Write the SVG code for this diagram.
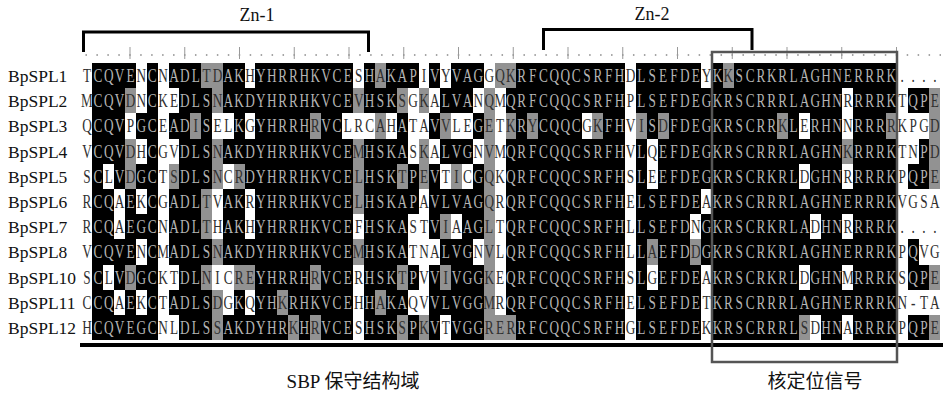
<svg xmlns="http://www.w3.org/2000/svg" width="943" height="393" viewBox="0 0 943 393">
<style>
.lbl{font-family:"Liberation Serif",serif;font-size:17.5px;fill:#111}
.seq{font-family:"Liberation Serif",serif;font-size:19px;fill:#303030;text-anchor:middle}
.seq .k{fill:#b4b4b4}
.ttl{font-family:"Liberation Serif",serif;font-size:18px;fill:#111;text-anchor:middle}
.cap{font-family:"Liberation Serif","Noto Sans CJK SC",serif;font-size:19px;fill:#111;text-anchor:middle}
.brk{fill:none;stroke:#000;stroke-width:3}
</style>
<rect width="943" height="393" fill="#fff"/>
<g id="ruler">
<line x1="85.45" y1="55" x2="941" y2="55" stroke="#888" stroke-width="1.6" stroke-dasharray="1.5 9.45"/>
<path d="M130 47v12M184.75 47v12M239.5 47v12M294.25 47v12M349 47v12M403.75 47v12M458.5 47v12M513.25 47v12M568 47v12M622.75 47v12M677.5 47v12M732.25 47v12M787 47v12M841.75 47v12M896.5 47v12" stroke="#999" stroke-width="1"/>
</g>
<g id="shading" transform="translate(81.57 63) scale(10.87 25.2)" shape-rendering="crispEdges">
<g fill="#000">
<rect x="1" y="0" width="4" height="1"/><rect x="6" y="0" width="1" height="1"/><rect x="8" y="0" width="3" height="1"/><rect x="13" y="0" width="2" height="1"/><rect x="16" y="0" width="9" height="1"/><rect x="26" y="0" width="1" height="1"/><rect x="28" y="0" width="3" height="1"/><rect x="32" y="0" width="1" height="1"/><rect x="34" y="0" width="3" height="1"/><rect x="40" y="0" width="10" height="1"/><rect x="51" y="0" width="6" height="1"/><rect x="58" y="0" width="1" height="1"/><rect x="60" y="0" width="15" height="1"/>
<rect x="1" y="1" width="3" height="1"/><rect x="6" y="1" width="1" height="1"/><rect x="9" y="1" width="3" height="1"/><rect x="13" y="1" width="12" height="1"/><rect x="26" y="1" width="3" height="1"/><rect x="33" y="1" width="3" height="1"/><rect x="39" y="1" width="11" height="1"/><rect x="51" y="1" width="19" height="1"/><rect x="71" y="1" width="4" height="1"/><rect x="76" y="1" width="2" height="1"/>
<rect x="1" y="2" width="3" height="1"/><rect x="5" y="2" width="2" height="1"/><rect x="8" y="2" width="2" height="1"/><rect x="11" y="2" width="1" height="1"/><rect x="14" y="2" width="1" height="1"/><rect x="16" y="2" width="5" height="1"/><rect x="22" y="2" width="2" height="1"/><rect x="29" y="2" width="1" height="1"/><rect x="32" y="2" width="1" height="1"/><rect x="36" y="2" width="1" height="1"/><rect x="40" y="2" width="1" height="1"/><rect x="42" y="2" width="4" height="1"/><rect x="48" y="2" width="2" height="1"/><rect x="52" y="2" width="1" height="1"/><rect x="54" y="2" width="10" height="1"/><rect x="65" y="2" width="1" height="1"/><rect x="67" y="2" width="3" height="1"/><rect x="71" y="2" width="3" height="1"/>
<rect x="1" y="3" width="3" height="1"/><rect x="6" y="3" width="1" height="1"/><rect x="9" y="3" width="3" height="1"/><rect x="13" y="3" width="12" height="1"/><rect x="26" y="3" width="4" height="1"/><rect x="33" y="3" width="3" height="1"/><rect x="39" y="3" width="11" height="1"/><rect x="51" y="3" width="1" height="1"/><rect x="53" y="3" width="17" height="1"/><rect x="71" y="3" width="4" height="1"/><rect x="77" y="3" width="1" height="1"/>
<rect x="1" y="4" width="1" height="1"/><rect x="3" y="4" width="1" height="1"/><rect x="5" y="4" width="2" height="1"/><rect x="9" y="4" width="3" height="1"/><rect x="15" y="4" width="10" height="1"/><rect x="26" y="4" width="3" height="1"/><rect x="30" y="4" width="1" height="1"/><rect x="32" y="4" width="1" height="1"/><rect x="36" y="4" width="1" height="1"/><rect x="39" y="4" width="11" height="1"/><rect x="51" y="4" width="1" height="1"/><rect x="53" y="4" width="13" height="1"/><rect x="67" y="4" width="3" height="1"/><rect x="71" y="4" width="4" height="1"/><rect x="76" y="4" width="2" height="1"/>
<rect x="1" y="5" width="2" height="1"/><rect x="4" y="5" width="1" height="1"/><rect x="6" y="5" width="1" height="1"/><rect x="8" y="5" width="3" height="1"/><rect x="13" y="5" width="2" height="1"/><rect x="16" y="5" width="9" height="1"/><rect x="26" y="5" width="5" height="1"/><rect x="32" y="5" width="5" height="1"/><rect x="39" y="5" width="11" height="1"/><rect x="51" y="5" width="6" height="1"/><rect x="58" y="5" width="17" height="1"/>
<rect x="1" y="6" width="2" height="1"/><rect x="4" y="6" width="3" height="1"/><rect x="8" y="6" width="3" height="1"/><rect x="13" y="6" width="2" height="1"/><rect x="16" y="6" width="9" height="1"/><rect x="26" y="6" width="4" height="1"/><rect x="32" y="6" width="1" height="1"/><rect x="35" y="6" width="2" height="1"/><rect x="39" y="6" width="11" height="1"/><rect x="51" y="6" width="5" height="1"/><rect x="57" y="6" width="10" height="1"/><rect x="68" y="6" width="2" height="1"/><rect x="71" y="6" width="4" height="1"/>
<rect x="1" y="7" width="4" height="1"/><rect x="6" y="7" width="1" height="1"/><rect x="8" y="7" width="4" height="1"/><rect x="13" y="7" width="12" height="1"/><rect x="26" y="7" width="4" height="1"/><rect x="33" y="7" width="3" height="1"/><rect x="39" y="7" width="11" height="1"/><rect x="51" y="7" width="1" height="1"/><rect x="53" y="7" width="3" height="1"/><rect x="57" y="7" width="18" height="1"/><rect x="76" y="7" width="1" height="1"/>
<rect x="1" y="8" width="1" height="1"/><rect x="3" y="8" width="1" height="1"/><rect x="5" y="8" width="2" height="1"/><rect x="9" y="8" width="2" height="1"/><rect x="16" y="8" width="5" height="1"/><rect x="22" y="8" width="3" height="1"/><rect x="26" y="8" width="3" height="1"/><rect x="30" y="8" width="1" height="1"/><rect x="32" y="8" width="1" height="1"/><rect x="34" y="8" width="3" height="1"/><rect x="39" y="8" width="11" height="1"/><rect x="51" y="8" width="1" height="1"/><rect x="53" y="8" width="4" height="1"/><rect x="58" y="8" width="8" height="1"/><rect x="67" y="8" width="3" height="1"/><rect x="71" y="8" width="4" height="1"/><rect x="76" y="8" width="2" height="1"/>
<rect x="1" y="9" width="2" height="1"/><rect x="4" y="9" width="1" height="1"/><rect x="6" y="9" width="1" height="1"/><rect x="8" y="9" width="4" height="1"/><rect x="14" y="9" width="1" height="1"/><rect x="16" y="9" width="2" height="1"/><rect x="19" y="9" width="6" height="1"/><rect x="26" y="9" width="1" height="1"/><rect x="28" y="9" width="2" height="1"/><rect x="32" y="9" width="5" height="1"/><rect x="39" y="9" width="11" height="1"/><rect x="51" y="9" width="6" height="1"/><rect x="58" y="9" width="17" height="1"/>
<rect x="1" y="10" width="6" height="1"/><rect x="9" y="10" width="3" height="1"/><rect x="13" y="10" width="6" height="1"/><rect x="20" y="10" width="1" height="1"/><rect x="22" y="10" width="3" height="1"/><rect x="26" y="10" width="3" height="1"/><rect x="30" y="10" width="1" height="1"/><rect x="32" y="10" width="1" height="1"/><rect x="34" y="10" width="3" height="1"/><rect x="40" y="10" width="10" height="1"/><rect x="51" y="10" width="6" height="1"/><rect x="58" y="10" width="8" height="1"/><rect x="68" y="10" width="2" height="1"/><rect x="71" y="10" width="4" height="1"/><rect x="76" y="10" width="2" height="1"/>
</g>
<g fill="#929292">
<rect x="11" y="0" width="2" height="1"/><rect x="27" y="0" width="1" height="1"/><rect x="38" y="0" width="2" height="1"/><rect x="59" y="0" width="1" height="1"/>
<rect x="4" y="1" width="1" height="1"/><rect x="12" y="1" width="1" height="1"/><rect x="25" y="1" width="1" height="1"/><rect x="29" y="1" width="1" height="1"/><rect x="31" y="1" width="1" height="1"/><rect x="37" y="1" width="1" height="1"/><rect x="78" y="1" width="1" height="1"/>
<rect x="10" y="2" width="1" height="1"/><rect x="21" y="2" width="1" height="1"/><rect x="27" y="2" width="1" height="1"/><rect x="33" y="2" width="1" height="1"/><rect x="37" y="2" width="1" height="1"/><rect x="39" y="2" width="1" height="1"/><rect x="41" y="2" width="1" height="1"/><rect x="47" y="2" width="1" height="1"/><rect x="51" y="2" width="1" height="1"/><rect x="53" y="2" width="1" height="1"/><rect x="64" y="2" width="1" height="1"/><rect x="74" y="2" width="1" height="1"/><rect x="78" y="2" width="1" height="1"/>
<rect x="4" y="3" width="1" height="1"/><rect x="12" y="3" width="1" height="1"/><rect x="25" y="3" width="1" height="1"/><rect x="31" y="3" width="1" height="1"/><rect x="37" y="3" width="1" height="1"/><rect x="70" y="3" width="1" height="1"/><rect x="78" y="3" width="1" height="1"/>
<rect x="4" y="4" width="1" height="1"/><rect x="8" y="4" width="1" height="1"/><rect x="12" y="4" width="1" height="1"/><rect x="14" y="4" width="1" height="1"/><rect x="25" y="4" width="1" height="1"/><rect x="29" y="4" width="1" height="1"/><rect x="31" y="4" width="1" height="1"/><rect x="34" y="4" width="1" height="1"/><rect x="37" y="4" width="1" height="1"/><rect x="78" y="4" width="1" height="1"/>
<rect x="11" y="5" width="1" height="1"/><rect x="25" y="5" width="1" height="1"/><rect x="37" y="5" width="1" height="1"/>
<rect x="11" y="6" width="1" height="1"/><rect x="33" y="6" width="1" height="1"/><rect x="37" y="6" width="1" height="1"/>
<rect x="12" y="7" width="1" height="1"/><rect x="25" y="7" width="1" height="1"/><rect x="37" y="7" width="1" height="1"/><rect x="52" y="7" width="1" height="1"/><rect x="56" y="7" width="1" height="1"/>
<rect x="4" y="8" width="1" height="1"/><rect x="11" y="8" width="1" height="1"/><rect x="14" y="8" width="2" height="1"/><rect x="21" y="8" width="1" height="1"/><rect x="29" y="8" width="1" height="1"/><rect x="33" y="8" width="1" height="1"/><rect x="37" y="8" width="1" height="1"/><rect x="78" y="8" width="1" height="1"/>
<rect x="12" y="9" width="1" height="1"/><rect x="18" y="9" width="1" height="1"/><rect x="27" y="9" width="1" height="1"/><rect x="37" y="9" width="1" height="1"/>
<rect x="12" y="10" width="1" height="1"/><rect x="19" y="10" width="1" height="1"/><rect x="21" y="10" width="1" height="1"/><rect x="29" y="10" width="1" height="1"/><rect x="31" y="10" width="1" height="1"/><rect x="37" y="10" width="3" height="1"/><rect x="66" y="10" width="1" height="1"/><rect x="78" y="10" width="1" height="1"/>
</g>
</g>
<rect id="domain-line" x="80" y="343" width="863" height="4" fill="#000"/>
<g id="sequences" class="seq" transform="matrix(0.7 0 0 1 87 0)">
<text id="seq-BpSPL1" y="82" x="0 15.53 31.06 46.59 62.11 77.64 93.17 108.7 124.23 139.76 155.29 170.81 186.34 201.87 217.4 232.93 248.46 263.99 279.51 295.04 310.57 326.1 341.63 357.16 372.69 388.21 403.74 419.27 434.8 450.33 465.86 481.39 496.91 512.44 527.97 543.5 559.03 574.56 590.09 605.61 621.14 636.67 652.2 667.73 683.26 698.79 714.31 729.84 745.37 760.9 776.43 791.96 807.49 823.01 838.54 854.07 869.6 885.13 900.66 916.19 931.71 947.24 962.77 978.3 993.83 1009.36 1024.89 1040.41 1055.94 1071.47 1087 1102.53 1118.06 1133.59 1149.11 1164.64 1180.17 1195.7 1211.23">T<tspan class="k">CQVE</tspan>N<tspan class="k">C</tspan>N<tspan class="k">ADL</tspan>TD<tspan class="k">AK</tspan>H<tspan class="k">YHRRHKVCE</tspan>S<tspan class="k">H</tspan>A<tspan class="k">KAP</tspan>I<tspan class="k">V</tspan>Y<tspan class="k">VAG</tspan>GQK<tspan class="k">RFCQQCSRFH</tspan>D<tspan class="k">LSEFDE</tspan>Y<tspan class="k">K</tspan>K<tspan class="k">SCRKRLAGHNERRRK</tspan>....</text>
<text id="seq-BpSPL2" y="107.2" x="0 15.53 31.06 46.59 62.11 77.64 93.17 108.7 124.23 139.76 155.29 170.81 186.34 201.87 217.4 232.93 248.46 263.99 279.51 295.04 310.57 326.1 341.63 357.16 372.69 388.21 403.74 419.27 434.8 450.33 465.86 481.39 496.91 512.44 527.97 543.5 559.03 574.56 590.09 605.61 621.14 636.67 652.2 667.73 683.26 698.79 714.31 729.84 745.37 760.9 776.43 791.96 807.49 823.01 838.54 854.07 869.6 885.13 900.66 916.19 931.71 947.24 962.77 978.3 993.83 1009.36 1024.89 1040.41 1055.94 1071.47 1087 1102.53 1118.06 1133.59 1149.11 1164.64 1180.17 1195.7 1211.23">M<tspan class="k">CQV</tspan>DN<tspan class="k">C</tspan>KE<tspan class="k">DLS</tspan>N<tspan class="k">AKDYHRRHKVCE</tspan>V<tspan class="k">HSK</tspan>SGKA<tspan class="k">LVA</tspan>NQM<tspan class="k">QRFCQQCSRFH</tspan>P<tspan class="k">LSEFDEGKRSCRRRLAGHN</tspan>R<tspan class="k">RRRK</tspan>T<tspan class="k">QP</tspan>E</text>
<text id="seq-BpSPL3" y="132.4" x="0 15.53 31.06 46.59 62.11 77.64 93.17 108.7 124.23 139.76 155.29 170.81 186.34 201.87 217.4 232.93 248.46 263.99 279.51 295.04 310.57 326.1 341.63 357.16 372.69 388.21 403.74 419.27 434.8 450.33 465.86 481.39 496.91 512.44 527.97 543.5 559.03 574.56 590.09 605.61 621.14 636.67 652.2 667.73 683.26 698.79 714.31 729.84 745.37 760.9 776.43 791.96 807.49 823.01 838.54 854.07 869.6 885.13 900.66 916.19 931.71 947.24 962.77 978.3 993.83 1009.36 1024.89 1040.41 1055.94 1071.47 1087 1102.53 1118.06 1133.59 1149.11 1164.64 1180.17 1195.7 1211.23">Q<tspan class="k">CQV</tspan>P<tspan class="k">GC</tspan>E<tspan class="k">AD</tspan>I<tspan class="k">S</tspan>EL<tspan class="k">K</tspan>G<tspan class="k">YHRRH</tspan>R<tspan class="k">VC</tspan>LRCAH<tspan class="k">A</tspan>TA<tspan class="k">V</tspan>VLE<tspan class="k">G</tspan>ETK<tspan class="k">R</tspan>Y<tspan class="k">CQQC</tspan>GK<tspan class="k">FH</tspan>VI<tspan class="k">S</tspan>D<tspan class="k">FDEGKRSCRR</tspan>K<tspan class="k">L</tspan>E<tspan class="k">RHN</tspan>N<tspan class="k">RRR</tspan>RKPGD</text>
<text id="seq-BpSPL4" y="157.6" x="0 15.53 31.06 46.59 62.11 77.64 93.17 108.7 124.23 139.76 155.29 170.81 186.34 201.87 217.4 232.93 248.46 263.99 279.51 295.04 310.57 326.1 341.63 357.16 372.69 388.21 403.74 419.27 434.8 450.33 465.86 481.39 496.91 512.44 527.97 543.5 559.03 574.56 590.09 605.61 621.14 636.67 652.2 667.73 683.26 698.79 714.31 729.84 745.37 760.9 776.43 791.96 807.49 823.01 838.54 854.07 869.6 885.13 900.66 916.19 931.71 947.24 962.77 978.3 993.83 1009.36 1024.89 1040.41 1055.94 1071.47 1087 1102.53 1118.06 1133.59 1149.11 1164.64 1180.17 1195.7 1211.23">V<tspan class="k">CQV</tspan>DH<tspan class="k">C</tspan>GV<tspan class="k">DLS</tspan>N<tspan class="k">AKDYHRRHKVCE</tspan>M<tspan class="k">HSKA</tspan>SKA<tspan class="k">LVG</tspan>NVM<tspan class="k">QRFCQQCSRFH</tspan>V<tspan class="k">L</tspan>Q<tspan class="k">EFDEGKRSCRRRLAGHN</tspan>K<tspan class="k">RRRK</tspan>TN<tspan class="k">P</tspan>D</text>
<text id="seq-BpSPL5" y="182.8" x="0 15.53 31.06 46.59 62.11 77.64 93.17 108.7 124.23 139.76 155.29 170.81 186.34 201.87 217.4 232.93 248.46 263.99 279.51 295.04 310.57 326.1 341.63 357.16 372.69 388.21 403.74 419.27 434.8 450.33 465.86 481.39 496.91 512.44 527.97 543.5 559.03 574.56 590.09 605.61 621.14 636.67 652.2 667.73 683.26 698.79 714.31 729.84 745.37 760.9 776.43 791.96 807.49 823.01 838.54 854.07 869.6 885.13 900.66 916.19 931.71 947.24 962.77 978.3 993.83 1009.36 1024.89 1040.41 1055.94 1071.47 1087 1102.53 1118.06 1133.59 1149.11 1164.64 1180.17 1195.7 1211.23">S<tspan class="k">C</tspan>L<tspan class="k">V</tspan>D<tspan class="k">GC</tspan>TS<tspan class="k">DLS</tspan>NCR<tspan class="k">DYHRRHKVCE</tspan>L<tspan class="k">HSK</tspan>T<tspan class="k">P</tspan>E<tspan class="k">V</tspan>TIC<tspan class="k">G</tspan>QK<tspan class="k">QRFCQQCSRFH</tspan>S<tspan class="k">L</tspan>E<tspan class="k">EFDEGKRSCRKRL</tspan>D<tspan class="k">GHN</tspan>R<tspan class="k">RRRK</tspan>P<tspan class="k">QP</tspan>E</text>
<text id="seq-BpSPL6" y="208" x="0 15.53 31.06 46.59 62.11 77.64 93.17 108.7 124.23 139.76 155.29 170.81 186.34 201.87 217.4 232.93 248.46 263.99 279.51 295.04 310.57 326.1 341.63 357.16 372.69 388.21 403.74 419.27 434.8 450.33 465.86 481.39 496.91 512.44 527.97 543.5 559.03 574.56 590.09 605.61 621.14 636.67 652.2 667.73 683.26 698.79 714.31 729.84 745.37 760.9 776.43 791.96 807.49 823.01 838.54 854.07 869.6 885.13 900.66 916.19 931.71 947.24 962.77 978.3 993.83 1009.36 1024.89 1040.41 1055.94 1071.47 1087 1102.53 1118.06 1133.59 1149.11 1164.64 1180.17 1195.7 1211.23">R<tspan class="k">CQ</tspan>A<tspan class="k">E</tspan>K<tspan class="k">C</tspan>G<tspan class="k">ADL</tspan>TV<tspan class="k">AK</tspan>R<tspan class="k">YHRRHKVCE</tspan>L<tspan class="k">HSKAP</tspan>A<tspan class="k">VLVAG</tspan>QR<tspan class="k">QRFCQQCSRFH</tspan>E<tspan class="k">LSEFDE</tspan>A<tspan class="k">KRSCRRRLAGHNERRRK</tspan>VGSA</text>
<text id="seq-BpSPL7" y="233.2" x="0 15.53 31.06 46.59 62.11 77.64 93.17 108.7 124.23 139.76 155.29 170.81 186.34 201.87 217.4 232.93 248.46 263.99 279.51 295.04 310.57 326.1 341.63 357.16 372.69 388.21 403.74 419.27 434.8 450.33 465.86 481.39 496.91 512.44 527.97 543.5 559.03 574.56 590.09 605.61 621.14 636.67 652.2 667.73 683.26 698.79 714.31 729.84 745.37 760.9 776.43 791.96 807.49 823.01 838.54 854.07 869.6 885.13 900.66 916.19 931.71 947.24 962.77 978.3 993.83 1009.36 1024.89 1040.41 1055.94 1071.47 1087 1102.53 1118.06 1133.59 1149.11 1164.64 1180.17 1195.7 1211.23">R<tspan class="k">CQ</tspan>A<tspan class="k">EGC</tspan>N<tspan class="k">ADL</tspan>TH<tspan class="k">AK</tspan>H<tspan class="k">YHRRHKVCE</tspan>F<tspan class="k">HSKA</tspan>ST<tspan class="k">V</tspan>IA<tspan class="k">AG</tspan>LT<tspan class="k">QRFCQQCSRFH</tspan>L<tspan class="k">LSEFD</tspan>N<tspan class="k">GKRSCRKRLA</tspan>D<tspan class="k">HN</tspan>R<tspan class="k">RRRK</tspan>....</text>
<text id="seq-BpSPL8" y="258.4" x="0 15.53 31.06 46.59 62.11 77.64 93.17 108.7 124.23 139.76 155.29 170.81 186.34 201.87 217.4 232.93 248.46 263.99 279.51 295.04 310.57 326.1 341.63 357.16 372.69 388.21 403.74 419.27 434.8 450.33 465.86 481.39 496.91 512.44 527.97 543.5 559.03 574.56 590.09 605.61 621.14 636.67 652.2 667.73 683.26 698.79 714.31 729.84 745.37 760.9 776.43 791.96 807.49 823.01 838.54 854.07 869.6 885.13 900.66 916.19 931.71 947.24 962.77 978.3 993.83 1009.36 1024.89 1040.41 1055.94 1071.47 1087 1102.53 1118.06 1133.59 1149.11 1164.64 1180.17 1195.7 1211.23">V<tspan class="k">CQVE</tspan>N<tspan class="k">C</tspan>M<tspan class="k">ADLS</tspan>N<tspan class="k">AKDYHRRHKVCE</tspan>M<tspan class="k">HSKA</tspan>TNA<tspan class="k">LVG</tspan>NVL<tspan class="k">QRFCQQCSRFH</tspan>L<tspan class="k">L</tspan>A<tspan class="k">EFD</tspan>D<tspan class="k">GKRSCRKRLAGHNERRRK</tspan>P<tspan class="k">Q</tspan>VG</text>
<text id="seq-BpSPL10" y="283.6" x="0 15.53 31.06 46.59 62.11 77.64 93.17 108.7 124.23 139.76 155.29 170.81 186.34 201.87 217.4 232.93 248.46 263.99 279.51 295.04 310.57 326.1 341.63 357.16 372.69 388.21 403.74 419.27 434.8 450.33 465.86 481.39 496.91 512.44 527.97 543.5 559.03 574.56 590.09 605.61 621.14 636.67 652.2 667.73 683.26 698.79 714.31 729.84 745.37 760.9 776.43 791.96 807.49 823.01 838.54 854.07 869.6 885.13 900.66 916.19 931.71 947.24 962.77 978.3 993.83 1009.36 1024.89 1040.41 1055.94 1071.47 1087 1102.53 1118.06 1133.59 1149.11 1164.64 1180.17 1195.7 1211.23">S<tspan class="k">C</tspan>L<tspan class="k">V</tspan>D<tspan class="k">GC</tspan>KT<tspan class="k">DL</tspan>NICRE<tspan class="k">YHRRH</tspan>R<tspan class="k">VCE</tspan>R<tspan class="k">HSK</tspan>T<tspan class="k">P</tspan>V<tspan class="k">V</tspan>I<tspan class="k">VGG</tspan>KE<tspan class="k">QRFCQQCSRFH</tspan>S<tspan class="k">L</tspan>G<tspan class="k">EFDE</tspan>A<tspan class="k">KRSCRKRL</tspan>D<tspan class="k">GHN</tspan>M<tspan class="k">RRRK</tspan>S<tspan class="k">QP</tspan>E</text>
<text id="seq-BpSPL11" y="308.8" x="0 15.53 31.06 46.59 62.11 77.64 93.17 108.7 124.23 139.76 155.29 170.81 186.34 201.87 217.4 232.93 248.46 263.99 279.51 295.04 310.57 326.1 341.63 357.16 372.69 388.21 403.74 419.27 434.8 450.33 465.86 481.39 496.91 512.44 527.97 543.5 559.03 574.56 590.09 605.61 621.14 636.67 652.2 667.73 683.26 698.79 714.31 729.84 745.37 760.9 776.43 791.96 807.49 823.01 838.54 854.07 869.6 885.13 900.66 916.19 931.71 947.24 962.77 978.3 993.83 1009.36 1024.89 1040.41 1055.94 1071.47 1087 1102.53 1118.06 1133.59 1149.11 1164.64 1180.17 1195.7 1211.23">C<tspan class="k">CQ</tspan>A<tspan class="k">E</tspan>K<tspan class="k">C</tspan>T<tspan class="k">ADLS</tspan>DG<tspan class="k">K</tspan>Q<tspan class="k">YH</tspan>K<tspan class="k">RHKVCE</tspan>H<tspan class="k">H</tspan>A<tspan class="k">KA</tspan>QV<tspan class="k">VLVGG</tspan>MR<tspan class="k">QRFCQQCSRFH</tspan>E<tspan class="k">LSEFDE</tspan>T<tspan class="k">KRSCRRRLAGHNERRRK</tspan>N-TA</text>
<text id="seq-BpSPL12" y="334" x="0 15.53 31.06 46.59 62.11 77.64 93.17 108.7 124.23 139.76 155.29 170.81 186.34 201.87 217.4 232.93 248.46 263.99 279.51 295.04 310.57 326.1 341.63 357.16 372.69 388.21 403.74 419.27 434.8 450.33 465.86 481.39 496.91 512.44 527.97 543.5 559.03 574.56 590.09 605.61 621.14 636.67 652.2 667.73 683.26 698.79 714.31 729.84 745.37 760.9 776.43 791.96 807.49 823.01 838.54 854.07 869.6 885.13 900.66 916.19 931.71 947.24 962.77 978.3 993.83 1009.36 1024.89 1040.41 1055.94 1071.47 1087 1102.53 1118.06 1133.59 1149.11 1164.64 1180.17 1195.7 1211.23">H<tspan class="k">CQVEGC</tspan>NL<tspan class="k">DLS</tspan>S<tspan class="k">AKDYHR</tspan>K<tspan class="k">H</tspan>R<tspan class="k">VCE</tspan>S<tspan class="k">HSK</tspan>S<tspan class="k">P</tspan>K<tspan class="k">V</tspan>T<tspan class="k">VGG</tspan>RER<tspan class="k">RFCQQCSRFH</tspan>G<tspan class="k">LSEFDE</tspan>K<tspan class="k">KRSCRRRL</tspan>SD<tspan class="k">HN</tspan>A<tspan class="k">RRRK</tspan>P<tspan class="k">QP</tspan>E</text>
</g>
<g id="labels" class="lbl">
<text x="8" y="82">BpSPL1</text>
<text x="8" y="107.2">BpSPL2</text>
<text x="8" y="132.4">BpSPL3</text>
<text x="8" y="157.6">BpSPL4</text>
<text x="8" y="182.8">BpSPL5</text>
<text x="8" y="208">BpSPL6</text>
<text x="8" y="233.2">BpSPL7</text>
<text x="8" y="258.4">BpSPL8</text>
<text x="8" y="283.6">BpSPL10</text>
<text x="8" y="308.8">BpSPL11</text>
<text x="8" y="334">BpSPL12</text>
</g>
<g id="zn1">
<path class="brk" d="M83.5 52V32H368.5V52"/>
<text class="ttl" x="257" y="21">Zn-1</text>
</g>
<g id="zn2">
<path class="brk" d="M543.5 50V29.5H752V50"/>
<text class="ttl" x="652" y="20">Zn-2</text>
</g>
<g id="nls">
<rect x="712" y="52" width="185" height="310" fill="none" stroke="#555" stroke-width="2.5"/>
<text class="cap" x="815" y="388">核定位信号</text>
</g>
<g id="sbp">
<text class="cap" x="353" y="388">SBP 保守结构域</text>
</g>
</svg>
